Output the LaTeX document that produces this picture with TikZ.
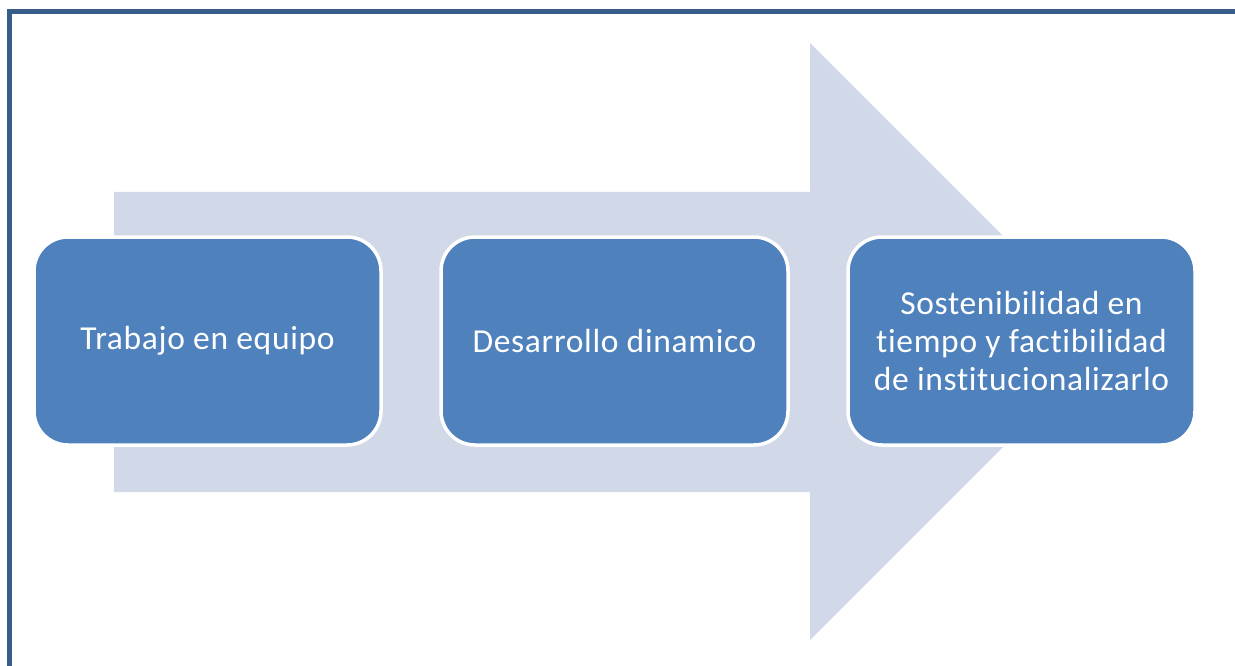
\documentclass[tikz,border=0pt]{standalone}
\usepackage{fontspec}
\setmainfont[Ligatures=NoCommon,LetterSpace=2]{Carlito}
\definecolor{framec}{HTML}{385D8A}
\definecolor{arrowc}{HTML}{D1D8E8}
\definecolor{boxc}{HTML}{4F81BD}
\begin{document}
\begin{tikzpicture}[x=1pt,y=-1pt,
  stepbox/.style={draw=white,line width=3.5pt,fill=boxc,rounded corners=34pt,
    minimum width=347pt,minimum height=208pt,text=white,align=center,
    font=\fontsize{33.5}{38}\selectfont,inner sep=0pt}]
\useasboundingbox (0,0) rectangle (1235,666);
\fill[white] (0,0) rectangle (1235,666);
% frame
\fill[framec] (7,9) rectangle (12,666);
\fill[framec] (7,9) rectangle (1235,14);
% big arrow
\fill[arrowc] (114,192) -- (810,192) -- (810,43) -- (1108.5,341.5) -- (810,640) -- (810,492) -- (114,492) -- cycle;
% boxes
\node[stepbox] (b1) at (207.5,341) {Trabajo en equipo};
\node[stepbox] (b2) at (614.5,341) {Desarrollo dinamico};
\node[stepbox] (b3) at (1021.5,341) {Sostenibilidad en\\tiempo y factibilidad\\de institucionalizarlo};
\end{tikzpicture}
\end{document}
